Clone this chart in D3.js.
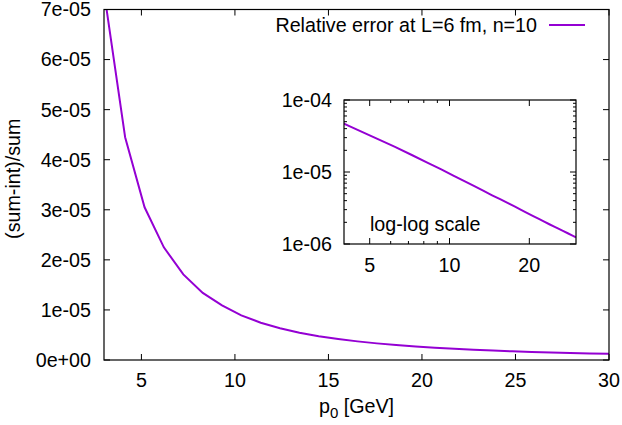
<!DOCTYPE html>
<html>
<head>
<meta charset="utf-8">
<script src="https://cdn.jsdelivr.net/npm/d3@7"></script>
<style>
  html, body { margin: 0; padding: 0; background: #fff; }
  svg { display: block; font-family: 'Liberation Sans', Arial, sans-serif; }
</style>
</head>
<body>
<div id="chart"></div>
<script>
// momentum values (GeV) and relative error
var p0 = [3.1, 4.13, 5.17, 6.2, 7.24, 8.28, 9.31, 10.34, 11.38, 12.41, 13.45,
  14.48, 15.52, 16.55, 17.59, 18.62, 19.66, 20.69, 21.73, 22.76, 23.8, 24.83,
  25.86, 26.9, 27.93, 28.97, 30]
var relErr = [7.1e-5, 4.45e-5, 3.05e-5, 2.25e-5, 1.71e-5, 1.34e-5, 1.09e-5,
  8.9e-6, 7.45e-6, 6.35e-6, 5.45e-6, 4.75e-6, 4.2e-6, 3.72e-6, 3.32e-6, 2.98e-6,
  2.69e-6, 2.44e-6, 2.23e-6, 2.04e-6, 1.88e-6, 1.74e-6, 1.62e-6, 1.51e-6,
  1.41e-6, 1.32e-6, 1.24e-6]

var xTicks = [5, 10, 15, 20, 25, 30]
var yTicks = [0, 1e-5, 2e-5, 3e-5, 4e-5, 5e-5, 6e-5, 7e-5]
var insetXTicks = [5, 10, 20]
var insetXMinor = [6, 7, 8, 9]
var insetYTicks = [1e-6, 1e-5, 1e-4]

var legendLabel = 'Relative error at L=6 fm, n=10'
var insetLabel = 'log-log scale'

var lineColor = '#9400d3'
var fontSize = 19.7

var width = 622
var height = 425

var svg = d3.select('#chart').append('svg')
  .attr('width', width)
  .attr('height', height)

var data = p0.map(function (p, i) { return { x: p, y: relErr[i] } })

function expLabel (t) {
  // gnuplot style: 1e-05, 0e+00
  return d3.format('.0e')(t).replace(/e([+-])(\d)$/, 'e$10$2')
}

// ---- main plot ----
var plot = { left: 104, right: 609, top: 9.5, bottom: 360 }

var x = d3.scaleLinear().domain([3, 30]).range([plot.left, plot.right])
var y = d3.scaleLinear().domain([0, 7e-5]).range([plot.bottom, plot.top])

svg.append('clipPath').attr('id', 'clipMain')
  .append('rect')
  .attr('x', plot.left).attr('y', plot.top)
  .attr('width', plot.right - plot.left).attr('height', plot.bottom - plot.top)

function frame (g, x0, y0, x1, y1) {
  g.append('rect')
    .attr('x', x0).attr('y', y0)
    .attr('width', x1 - x0).attr('height', y1 - y0)
    .attr('fill', 'none')
    .attr('stroke', '#000')
    .attr('stroke-width', 1.2)
}

var gMain = svg.append('g')

// inward ticks, mirrored on top and right
var tickLen = 6
xTicks.forEach(function (t) {
  gMain.append('line')
    .attr('x1', x(t)).attr('x2', x(t))
    .attr('y1', plot.bottom).attr('y2', plot.bottom - tickLen)
    .attr('stroke', '#000')
  gMain.append('line')
    .attr('x1', x(t)).attr('x2', x(t))
    .attr('y1', plot.top).attr('y2', plot.top + tickLen)
    .attr('stroke', '#000')
  gMain.append('text')
    .attr('x', x(t))
    .attr('y', plot.bottom + 27)
    .attr('text-anchor', 'middle')
    .style('font-size', fontSize + 'px')
    .text(t)
})

yTicks.forEach(function (t) {
  gMain.append('line')
    .attr('x1', plot.left).attr('x2', plot.left + tickLen)
    .attr('y1', y(t)).attr('y2', y(t))
    .attr('stroke', '#000')
  gMain.append('line')
    .attr('x1', plot.right).attr('x2', plot.right - tickLen)
    .attr('y1', y(t)).attr('y2', y(t))
    .attr('stroke', '#000')
  gMain.append('text')
    .attr('x', plot.left - 13)
    .attr('y', y(t))
    .attr('dy', '0.35em')
    .attr('text-anchor', 'end')
    .style('font-size', fontSize + 'px')
    .text(expLabel(t))
})

var line = d3.line()
  .x(function (d) { return x(d.x) })
  .y(function (d) { return y(d.y) })

gMain.append('path')
  .datum(data)
  .attr('clip-path', 'url(#clipMain)')
  .attr('fill', 'none')
  .attr('stroke', lineColor)
  .attr('stroke-width', 2)
  .attr('d', line)

frame(gMain, plot.left, plot.top, plot.right, plot.bottom)

// axis titles
var xTitle = gMain.append('text')
  .attr('x', (plot.left + plot.right) / 2)
  .attr('y', 413)
  .attr('text-anchor', 'middle')
  .style('font-size', fontSize + 'px')
xTitle.append('tspan').text('p')
xTitle.append('tspan').attr('dy', 5).style('font-size', '15px').text('0')
xTitle.append('tspan').attr('dy', -5).text(' [GeV]')

gMain.append('text')
  .attr('transform', 'translate(20,' + ((plot.top + plot.bottom) / 2 - 6) + ') rotate(-90)')
  .attr('text-anchor', 'middle')
  .style('font-size', fontSize + 'px')
  .text('(sum-int)/sum')

// legend
gMain.append('text')
  .attr('x', 537)
  .attr('y', 32)
  .attr('text-anchor', 'end')
  .style('font-size', fontSize + 'px')
  .text(legendLabel)
gMain.append('line')
  .attr('x1', 549).attr('x2', 585)
  .attr('y1', 25).attr('y2', 25)
  .attr('stroke', lineColor)
  .attr('stroke-width', 2)

// ---- inset, log-log ----
var inset = { left: 344, right: 576, top: 100, bottom: 244 }

var xi = d3.scaleLog().domain([4, 30]).range([inset.left, inset.right])
var yi = d3.scaleLog().domain([1e-6, 1e-4]).range([inset.bottom, inset.top])

svg.append('clipPath').attr('id', 'clipInset')
  .append('rect')
  .attr('x', inset.left).attr('y', inset.top)
  .attr('width', inset.right - inset.left).attr('height', inset.bottom - inset.top)

var gInset = svg.append('g')

insetXTicks.forEach(function (t) {
  gInset.append('line')
    .attr('x1', xi(t)).attr('x2', xi(t))
    .attr('y1', inset.bottom).attr('y2', inset.bottom - tickLen)
    .attr('stroke', '#000')
  gInset.append('line')
    .attr('x1', xi(t)).attr('x2', xi(t))
    .attr('y1', inset.top).attr('y2', inset.top + tickLen)
    .attr('stroke', '#000')
  gInset.append('text')
    .attr('x', xi(t))
    .attr('y', inset.bottom + 28)
    .attr('text-anchor', 'middle')
    .style('font-size', fontSize + 'px')
    .text(t)
})

insetXMinor.forEach(function (t) {
  gInset.append('line')
    .attr('x1', xi(t)).attr('x2', xi(t))
    .attr('y1', inset.bottom).attr('y2', inset.bottom - 3)
    .attr('stroke', '#000')
  gInset.append('line')
    .attr('x1', xi(t)).attr('x2', xi(t))
    .attr('y1', inset.top).attr('y2', inset.top + 3)
    .attr('stroke', '#000')
})

insetYTicks.forEach(function (t) {
  gInset.append('line')
    .attr('x1', inset.left).attr('x2', inset.left + tickLen)
    .attr('y1', yi(t)).attr('y2', yi(t))
    .attr('stroke', '#000')
  gInset.append('line')
    .attr('x1', inset.right).attr('x2', inset.right - tickLen)
    .attr('y1', yi(t)).attr('y2', yi(t))
    .attr('stroke', '#000')
  gInset.append('text')
    .attr('x', inset.left - 12)
    .attr('y', yi(t))
    .attr('dy', '0.35em')
    .attr('text-anchor', 'end')
    .style('font-size', fontSize + 'px')
    .text(expLabel(t))
})

// minor ticks between decades
yi.ticks().filter(function (t) {
  return insetYTicks.indexOf(t) < 0
}).forEach(function (t) {
  gInset.append('line')
    .attr('x1', inset.left).attr('x2', inset.left + 3)
    .attr('y1', yi(t)).attr('y2', yi(t))
    .attr('stroke', '#000')
  gInset.append('line')
    .attr('x1', inset.right).attr('x2', inset.right - 3)
    .attr('y1', yi(t)).attr('y2', yi(t))
    .attr('stroke', '#000')
})

var lineInset = d3.line()
  .x(function (d) { return xi(d.x) })
  .y(function (d) { return yi(d.y) })

gInset.append('path')
  .datum(data)
  .attr('clip-path', 'url(#clipInset)')
  .attr('fill', 'none')
  .attr('stroke', lineColor)
  .attr('stroke-width', 2)
  .attr('d', lineInset)

frame(gInset, inset.left, inset.top, inset.right, inset.bottom)

gInset.append('text')
  .attr('x', 370)
  .attr('y', 231)
  .style('font-size', fontSize + 'px')
  .text(insetLabel)
</script>
</body>
</html>
